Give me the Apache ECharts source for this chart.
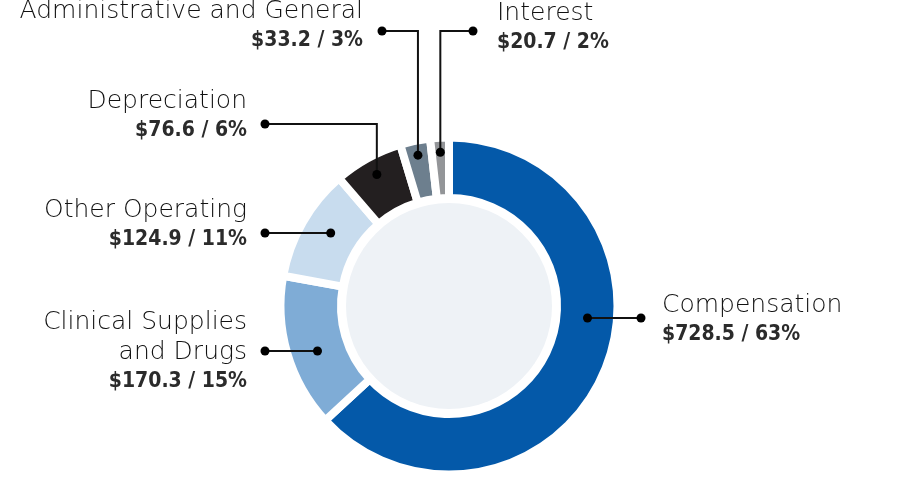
<!DOCTYPE html>
<html>
<head>
<meta charset="utf-8">
<script src="https://cdn.jsdelivr.net/npm/echarts@6/dist/echarts.min.js"></script>
<style>
html,body{margin:0;padding:0;background:#fff;}
#chart{width:900px;height:481px;}
</style>
</head>
<body>
<div id="chart"></div>
<script>
// ---- data ----
const categories = ['Compensation', 'Clinical Supplies and Drugs', 'Other Operating', 'Depreciation', 'Administrative and General', 'Interest'];
const nameLines = [['Compensation'], ['Clinical Supplies', 'and Drugs'], ['Other Operating'], ['Depreciation'], ['Administrative and General'], ['Interest']];
const amounts = [728.5, 170.3, 124.9, 76.6, 33.2, 20.7];
const percents = [63, 15, 11, 6, 3, 2];
const colors = ['#0459a9', '#7facd6', '#c8dcee', '#231f20', '#6d7f8e', '#939598'];

// ---- layout (annotation placement) ----
const CX = 449, CY = 306, R_OUT = 168.5, R_IN = 108, INNER_DISC = 103;
const callouts = [
  { kind: 'h', r: 139, y: 318, endX: 641, align: 'left',  textX: 662, firstY: 305 },
  { kind: 'h', r: 139, y: 351, endX: 265, align: 'right', textX: 247, firstY: 322 },
  { kind: 'h', r: 139, y: 233, endX: 265, align: 'right', textX: 247, firstY: 210 },
  { kind: 'v', r: 150, y: 124, endX: 265, align: 'right', textX: 247, firstY: 101 },
  { kind: 'v', r: 154, y: 31,  endX: 382, align: 'right', textX: 363, firstY: 11 },
  { kind: 'v', r: 154, y: 31,  endX: 473, align: 'left',  textX: 497, firstY: 13 }
];
const LINE_H = 30;
const NAME_FONT = { fontFamily: '"DejaVu Sans", sans-serif', fontWeight: 300, fontSize: 25 };
const VALUE_FONT = { fontFamily: '"DejaVu Sans Condensed", "Liberation Sans Narrow", sans-serif', fontWeight: 'bold', fontSize: 21 };

const total = amounts.reduce((a, b) => a + b, 0);
const graphics = [{
  type: 'circle', shape: { cx: CX, cy: CY, r: INNER_DISC }, style: { fill: '#eef2f6' }, z: 0, silent: true
}];

let cum = 0;
amounts.forEach((v, i) => {
  const a0 = 90 - cum / total * 360;
  cum += v;
  const a1 = 90 - cum / total * 360;
  const mid = (a0 + a1) / 2 * Math.PI / 180;
  const c = callouts[i];
  let sx, sy, pts;
  if (c.kind === 'h') {
    const dy = c.y - CY;
    const dx = Math.sqrt(c.r * c.r - dy * dy);
    sx = c.endX > CX ? CX + dx : CX - dx;
    sy = c.y;
    pts = [[sx, sy], [c.endX, c.y]];
  } else {
    sx = CX + c.r * Math.cos(mid);
    sy = CY - c.r * Math.sin(mid);
    pts = [[sx, sy], [sx, c.y], [c.endX, c.y]];
  }
  graphics.push({ type: 'polyline', shape: { points: pts }, style: { stroke: '#111', lineWidth: 2, fill: null }, z: 10, silent: true });
  graphics.push({ type: 'circle', shape: { cx: sx, cy: sy, r: 4.5 }, style: { fill: '#000' }, z: 11, silent: true });
  graphics.push({ type: 'circle', shape: { cx: c.endX, cy: c.y, r: 4.5 }, style: { fill: '#000' }, z: 11, silent: true });
  const lines = nameLines[i];
  lines.forEach((t, k) => {
    graphics.push({ type: 'text', z: 12, silent: true, style: Object.assign({
      text: t, x: c.textX, y: c.firstY + k * LINE_H, align: c.align, verticalAlign: 'middle', fill: '#111'
    }, NAME_FONT) });
  });
  graphics.push({ type: 'text', z: 12, silent: true, style: Object.assign({
    text: '$' + v.toFixed(1) + ' / ' + percents[i] + '%', x: c.textX, y: c.firstY + lines.length * LINE_H,
    align: c.align, verticalAlign: 'middle', fill: '#2b2b2b'
  }, VALUE_FONT) });
});

const chart = echarts.init(document.getElementById('chart'), null, { renderer: 'canvas' });
chart.setOption({
  animation: false,
  graphic: graphics,
  series: [{
    type: 'pie',
    center: [CX, CY],
    radius: [R_IN, R_OUT],
    startAngle: 90,
    clockwise: true,
    silent: true,
    label: { show: false },
    labelLine: { show: false },
    itemStyle: { borderColor: '#fff', borderWidth: 8 },
    data: categories.map((n, i) => ({ name: n, value: amounts[i], itemStyle: { color: colors[i] } })),
    z: 2
  }]
});
</script>
</body>
</html>
